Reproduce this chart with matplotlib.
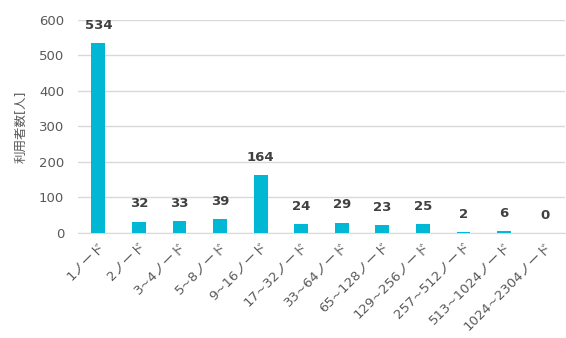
import numpy as np
import matplotlib
matplotlib.use("Agg")
import matplotlib.pyplot as plt

plt.rcParams['font.family'] = ['DejaVu Sans', 'Noto Sans CJK JP']

# node-count buckets and number of users
categories = ['1ノード', '2ノード', '3~4ノード', '5~8ノード', '9~16ノード', '17~32ノード',
              '33~64ノード', '65~128ノード', '129~256ノード', '257~512ノード',
              '513~1024ノード', '1024~2304ノード']
users = [534, 32, 33, 39, 164, 24, 29, 23, 25, 2, 6, 0]
yticks = [0, 100, 200, 300, 400, 500, 600]

fig = plt.figure(figsize=(5.66, 3.38), dpi=100)
ax = fig.add_axes([0.138, 0.311, 0.86, 0.63])

x = np.arange(len(categories))
bars = ax.bar(x, users, width=0.34, color='#00B8D4', zorder=3)

for xi, v in zip(x, users):
    ax.annotate(str(v), (xi, v), xytext=(0, 8), textcoords='offset points',
                ha='center', va='bottom', fontsize=9.5, fontweight='bold', color='#404040')

ax.set_xlim(-0.5, len(categories) - 0.5)
ax.set_ylim(0, 600)
ax.set_yticks(yticks)
ax.grid(axis='y', color='#D9D9D9', linewidth=1, zorder=0)
for s in ['top', 'right', 'left']:
    ax.spines[s].set_visible(False)
ax.spines['bottom'].set_color('#D9D9D9')
ax.tick_params(axis='both', length=0, colors='#595959', labelsize=9.5)
ax.tick_params(axis='y', pad=10)
ax.tick_params(axis='x', pad=5)
ax.set_xticks(x)
ax.set_xticklabels(categories, rotation=45, ha='right', rotation_mode='anchor', fontsize=9.5)
ax.set_ylabel('利用者数[人]', color='#595959', fontsize=9, labelpad=8)

fig.savefig('out.png', dpi=100)
